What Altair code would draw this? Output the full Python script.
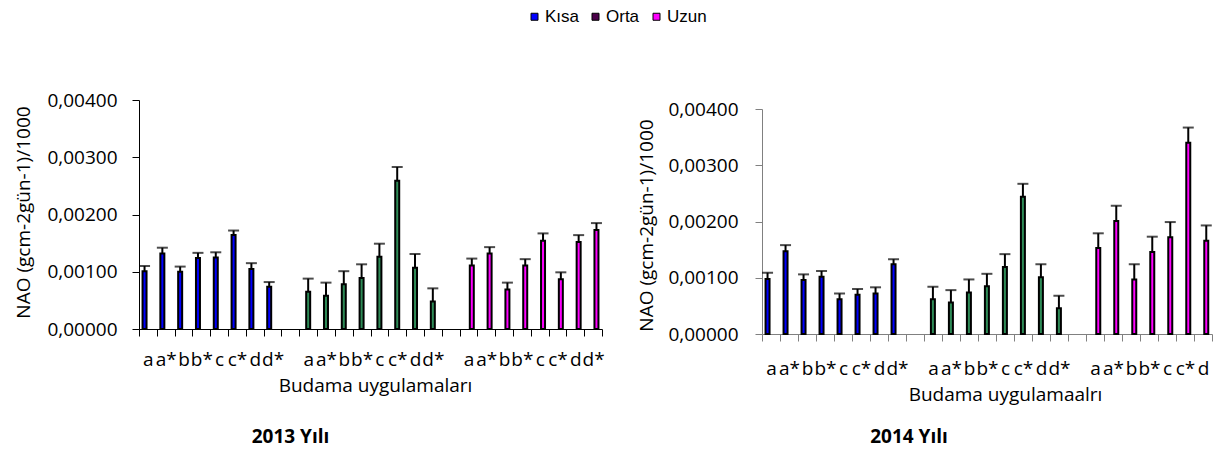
import altair as alt
import pandas as pd

series = ["Kısa", "Orta", "Uzun"]
treatments = ["a", "a*", "b", "b*", "c", "c*", "d", "d*"]
y_ticks = [0.0, 0.0005, 0.001, 0.0015, 0.002, 0.0025, 0.003, 0.0035, 0.004]

val_2013 = {
    "Kısa": [0.00101, 0.00132, 0.00100, 0.00124, 0.00125, 0.00164, 0.00105, 0.00074],
    "Orta": [0.00065, 0.00058, 0.00078, 0.00089, 0.00126, 0.00259, 0.00107, 0.00048],
    "Uzun": [0.00111, 0.00132, 0.00069, 0.00111, 0.00154, 0.00087, 0.00152, 0.00173],
}
err_2013 = {
    "Kısa": [0.00009, 0.00010, 0.00009, 0.00009, 0.00009, 0.00008, 0.00010, 0.00008],
    "Orta": [0.00023, 0.00023, 0.00023, 0.00024, 0.00023, 0.00024, 0.00024, 0.00023],
    "Uzun": [0.00012, 0.00011, 0.00012, 0.00011, 0.00013, 0.00012, 0.00012, 0.00012],
}
val_2014 = {
    "Kısa": [0.00098, 0.00147, 0.00096, 0.00102, 0.00062, 0.00070, 0.00072, 0.00124],
    "Orta": [0.00062, 0.00056, 0.00074, 0.00085, 0.00119, 0.00244, 0.00101, 0.00046],
    "Uzun": [0.00153, 0.00201, 0.00097, 0.00146, 0.00172, 0.00340, 0.00166, 0.00100],
}
err_2014 = {
    "Kısa": [0.00011, 0.00011, 0.00010, 0.00010, 0.00010, 0.00010, 0.00011, 0.00009],
    "Orta": [0.00022, 0.00022, 0.00023, 0.00022, 0.00023, 0.00023, 0.00023, 0.00022],
    "Uzun": [0.00026, 0.00027, 0.00027, 0.00027, 0.00027, 0.00027, 0.00027, 0.00026],
}

bar_colors = ["#0000FF", "#2E8B57", "#FF00FF"]
legend_colors = ["#0000FF", "#4B0049", "#FF00FF"]
FONT = "Open Sans"

slots = []
for gi in range(3):
    slots += [f"{gi + 1}{t}" for t in treatments]
    if gi < 2:
        slots.append(f"x{gi + 1}")

# sub-band positions inside each category slot (Excel clustered series)
offset_domain = ["<"] + series + [">"]


def frame(vals, errs):
    rows = []
    for gi, s in enumerate(series):
        for t, v, e in zip(treatments, vals[s], errs[s]):
            rows.append({"slot": f"{gi + 1}{t}", "seri": s, "value": v, "top": v + e})
    return pd.DataFrame(rows)


def panel(df, domain, width, height, y_range, *, title, title_dx, title_offset,
          xtitle, xtitle_x, xtitle_y, xlabel_pad, ytitle_y, ytitle_pad,
          ylabel_pad, axis_color, with_legend):
    x = alt.X(
        "slot:N",
        scale=alt.Scale(domain=domain, paddingInner=0, paddingOuter=0),
        axis=alt.Axis(
            title=xtitle,
            labelExpr="test(/^x/, datum.label) ? '' : substring(datum.label, 1)",
            labelAngle=0, labelFont=FONT, labelFontSize=19, labelColor="black",
            labelPadding=xlabel_pad, tickBand="extent", tickSize=7,
            tickColor=axis_color, domainColor=axis_color, labelOverlap=False,
            titleFont=FONT, titleFontSize=19, titleFontWeight="normal",
            titleColor="black", titleX=xtitle_x, titleY=xtitle_y,
            titleBaseline="alphabetic", titleAlign="center",
        ),
    )
    xo = alt.XOffset("seri:N", scale=alt.Scale(domain=offset_domain, paddingInner=0,
                                                 paddingOuter=0.15))
    y = alt.Y(
        "value:Q",
        scale=alt.Scale(domain=[0, 0.004], nice=False, range=y_range),
        axis=alt.Axis(
            title="NAO (gcm-2gün-1)/1000", values=y_ticks,
            labelExpr="replace(format(datum.value, '.5f'), '.', ',')",
            grid=False, tickSize=7, tickColor=axis_color, domainColor=axis_color,
            labelFont=FONT, labelFontSize=19, labelColor="black",
            labelOverlap=False, labelPadding=ylabel_pad, titleFont=FONT,
            titleFontSize=19, titleFontWeight="normal", titleColor="black",
            titleY=ytitle_y, titlePadding=ytitle_pad, titleAlign="center",
        ),
    )
    base = alt.Chart(df).transform_filter(
        alt.FieldOneOfPredicate(field="slot", oneOf=domain))
    bars = base.mark_bar(width=4, stroke="black", strokeWidth=2).encode(
        x=x, xOffset=xo, y=y,
        color=alt.Color("seri:N", scale=alt.Scale(domain=series, range=bar_colors),
                        legend=None),
    )
    err = base.mark_rule(color="black", strokeWidth=2).encode(
        x=x, xOffset=xo, y="value:Q", y2="top:Q")
    cap = base.mark_tick(color="black", thickness=2, size=11,
                         orient="horizontal").encode(x=x, xOffset=xo, y="top:Q")
    layers = [bars, err, cap]
    if with_legend:
        # carrier of the legend only: 1px squares hidden under the bars
        leg = base.mark_square(size=1).encode(
            x=x, xOffset=xo, y=y,
            fill=alt.Fill(
                "seri:N", scale=alt.Scale(domain=series, range=legend_colors),
                legend=alt.Legend(
                    title=None, orient="none", legendX=387, legendY=-92,
                    direction="horizontal", symbolType="square", symbolSize=49,
                    symbolStrokeColor="black", symbolStrokeWidth=1,
                    symbolOpacity=1, labelFont="Liberation Sans",
                    labelFontSize=17, labelColor="black", labelOffset=2,
                    columnPadding=2, gridAlign="all",
                ),
            ),
        )
        layers = [leg] + layers
    return alt.layer(*layers).properties(
        width=width, height=height,
        title=alt.TitleParams(title, orient="bottom", font=FONT, fontSize=19,
                              fontWeight="bold", color="black", frame="group",
                              anchor="middle", dx=title_dx, offset=title_offset),
    )


# the right panel is cut by the picture's right edge: its last slot is not shown
left = panel(frame(val_2013, err_2013), slots, 463, 229, [229, 0],
             title="2013 Yılı", title_dx=-80, title_offset=33,
             xtitle="Budama uygulamaları", xtitle_x=236, xtitle_y=62,
             xlabel_pad=14, ytitle_y=112, ytitle_pad=13, ylabel_pad=15,
             axis_color="black", with_legend=True)
right = panel(frame(val_2014, err_2014), slots[:-1], 450, 234, [234, 9],
              title="2014 Yılı", title_dx=-78, title_offset=24,
              xtitle="Budama uygulamaalrı", xtitle_x=243, xtitle_y=66,
              xlabel_pad=18, ytitle_y=125, ytitle_pad=11, ylabel_pad=17,
              axis_color="#808080", with_legend=False)

chart = alt.hconcat(left, right, spacing=32).properties(
    padding={"left": 6, "top": 0, "right": 0, "bottom": 6}
).configure_view(stroke=None)

chart.save("out.html", embed_options={"renderer": "svg", "actions": False})
